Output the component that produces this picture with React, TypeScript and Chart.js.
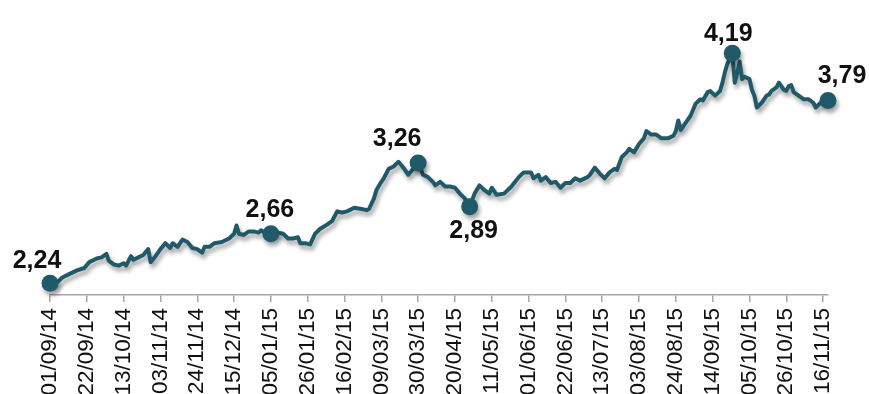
import React, { useEffect, useRef } from "react";
import { Chart, registerables } from "chart.js";

Chart.register(...registerables);

// Monday tick labels, every 15 trading days (3 weeks)
const tickLabels = [
  "01/09/14", "22/09/14", "13/10/14", "03/11/14", "24/11/14", "15/12/14",
  "05/01/15", "26/01/15", "16/02/15", "09/03/15", "30/03/15", "20/04/15",
  "11/05/15", "01/06/15", "22/06/15", "13/07/15", "03/08/15", "24/08/15",
  "14/09/15", "05/10/15", "26/10/15", "16/11/15",
];
const TICK_STEP = 15; // trading days between tick labels

// trading-day index (0 = 01/09/14) of each observation
const tradingDay = [
  0, 3, 5, 8, 11, 14, 16, 19, 21, 23, 24, 26, 28, 30, 31, 33, 34, 36, 38, 40,
  41, 43, 45, 47, 49, 50, 52, 54, 56, 58, 60, 62, 63, 65, 67, 70, 73, 75, 76, 77,
  79, 81, 83, 85, 86, 88, 90, 93, 95, 97, 99, 101, 102, 104, 106, 108, 110, 113, 115, 117,
  119, 121, 124, 127, 129, 130, 132, 133, 135, 136, 138, 140, 142, 144, 146, 148, 150, 152, 154, 156,
  157, 159, 161, 163, 165, 167, 169, 171, 173, 175, 177, 179, 180, 182, 185, 188, 191, 193, 196, 197,
  199, 200, 202, 204, 206, 208, 210, 212, 214, 216, 219, 220, 222, 224, 226, 228, 230, 231, 233, 235,
  236, 238, 240, 242, 243, 245, 247, 249, 252, 254, 255, 256, 257, 259, 261, 263, 265, 266, 268, 269,
  271, 273, 274, 275, 276, 278, 279, 280, 281, 282, 283, 285, 286, 287, 288, 290, 292, 293, 294, 296,
  297, 299, 300, 301, 302, 303, 305, 307, 309, 311, 312, 314, 315, 317,
];

const values = [
  2.24, 2.25, 2.29, 2.32, 2.35, 2.37, 2.42, 2.45, 2.46, 2.49, 2.43, 2.40, 2.39, 2.41, 2.39, 2.47, 2.44, 2.46, 2.48, 2.53,
  2.42, 2.47, 2.53, 2.58, 2.54, 2.58, 2.55, 2.61, 2.59, 2.54, 2.53, 2.50, 2.55, 2.55, 2.58, 2.59, 2.62, 2.66, 2.73, 2.66,
  2.65, 2.68, 2.68, 2.67, 2.69, 2.66, 2.66, 2.67, 2.66, 2.62, 2.62, 2.63, 2.58, 2.58, 2.57, 2.66, 2.70, 2.74, 2.77, 2.85,
  2.84, 2.85, 2.88, 2.87, 2.86, 2.87, 2.96, 3.03, 3.10, 3.13, 3.21, 3.23, 3.27, 3.22, 3.16, 3.21, 3.26, 3.16, 3.14, 3.10,
  3.07, 3.10, 3.06, 3.06, 3.05, 3.00, 2.96, 2.89, 3.00, 3.07, 3.03, 3.00, 3.05, 2.99, 3.00, 3.06, 3.14, 3.18, 3.18, 3.13,
  3.16, 3.11, 3.14, 3.09, 3.10, 3.05, 3.09, 3.09, 3.13, 3.11, 3.14, 3.16, 3.22, 3.17, 3.13, 3.18, 3.21, 3.20, 3.31, 3.35,
  3.38, 3.35, 3.42, 3.47, 3.53, 3.50, 3.50, 3.47, 3.47, 3.49, 3.53, 3.62, 3.54, 3.60, 3.66, 3.76, 3.80, 3.79, 3.86, 3.87,
  3.83, 3.87, 3.94, 4.03, 4.10, 4.19, 3.94, 4.02, 4.12, 3.97, 3.99, 3.97, 3.88, 3.83, 3.73, 3.77, 3.83, 3.84, 3.87, 3.90,
  3.94, 3.88, 3.87, 3.91, 3.92, 3.86, 3.83, 3.80, 3.80, 3.77, 3.73, 3.77, 3.78, 3.79,
];

// trading days whose value is marked and labelled
const markedDays = [0, 90, 150, 171, 278, 317];

const LINE_COLOR = "#205a6a";

export default function App() {
  const canvasRef = useRef<HTMLCanvasElement | null>(null);

  useEffect(() => {
    const canvas = canvasRef.current;
    if (!canvas) return;

    const points = tradingDay.map((d, i) => ({ x: d, y: values[i] }));
    const markedIdx = new Set(markedDays.map((d) => tradingDay.indexOf(d)));

    // label offsets (px) from the marker centre to the label's cap centre
    const labelOffsets: Record<number, [number, number]> = {
      0: [-13, -24],
      90: [-1, -26],
      150: [-21, -26],
      171: [4, 22],
      278: [-4, -21],
      317: [14, -26],
    };

    const shadowPlugin = {
      id: "lineShadow",
      beforeDatasetsDraw(chart: any) {
        const ctx = chart.ctx;
        ctx.save();
        ctx.shadowColor = "rgba(0,0,0,0.36)";
        ctx.shadowBlur = 4;
        ctx.shadowOffsetX = 2;
        ctx.shadowOffsetY = 4;
      },
      afterDatasetsDraw(chart: any) {
        chart.ctx.restore();
      },
    };

    const labelPlugin = {
      id: "valueLabels",
      afterDraw(chart: any) {
        const ctx = chart.ctx;
        const meta = chart.getDatasetMeta(0);
        ctx.save();
        ctx.font = "bold 25px 'Liberation Sans', Arial, sans-serif";
        ctx.fillStyle = "#111111";
        ctx.textAlign = "center";
        ctx.textBaseline = "alphabetic";
        markedDays.forEach((day) => {
          const idx = tradingDay.indexOf(day);
          const el = meta.data[idx];
          if (!el) return;
          const [dx, dy] = labelOffsets[day] || [0, -24];
          const text = values[idx].toFixed(2).replace(".", ",");
          ctx.fillText(text, el.x + dx, el.y + dy + 8.9);
        });
        ctx.restore();
      },
    };

    const chart = new Chart(canvas, {
      type: "line",
      data: {
        datasets: [
          {
            data: points,
            borderColor: LINE_COLOR,
            backgroundColor: LINE_COLOR,
            borderWidth: 4,
            tension: 0,
            borderJoinStyle: "round",
            borderCapStyle: "round",
            pointRadius: (c: any) => (markedIdx.has(c.dataIndex) ? 8.5 : 0),
            pointHoverRadius: (c: any) => (markedIdx.has(c.dataIndex) ? 8.5 : 0),
            pointBorderWidth: 0,
            pointBackgroundColor: LINE_COLOR,
            clip: false as any,
          },
        ],
      },
      options: {
        responsive: false,
        animation: false,
        devicePixelRatio: 1,
        parsing: false as any,
        layout: { padding: { left: 50, right: 41, top: 0, bottom: 0 } },
        plugins: {
          legend: { display: false },
          tooltip: { enabled: false },
          title: { display: false },
        },
        events: [],
        scales: {
          x: {
            type: "linear",
            min: 0,
            max: tradingDay[tradingDay.length - 1],
            afterBuildTicks: (scale: any) => {
              scale.ticks = tickLabels.map((_, k) => ({ value: k * TICK_STEP }));
            },
            afterFit: (scale: any) => {
              scale.height = 99;
            },
            border: { display: true, color: "#a6a6a6", width: 1.5 },
            grid: {
              display: true,
              drawOnChartArea: false,
              drawTicks: true,
              tickLength: 7,
              color: "#a6a6a6",
              lineWidth: 1.5,
            },
            ticks: {
              autoSkip: false,
              minRotation: 90,
              maxRotation: 90,
              padding: 6,
              color: "#111111",
              font: { family: "'Liberation Sans', Arial, sans-serif", size: 22.5 },
              callback: (v: any) => tickLabels[Math.round(Number(v) / TICK_STEP)],
            },
          },
          y: {
            display: false,
            min: 2.1413,
            max: 4.5685,
          },
        },
      },
      plugins: [shadowPlugin, labelPlugin],
    });

    return () => chart.destroy();
  }, []);

  return (
    <div
      style={{
        position: "fixed",
        left: 0,
        top: 0,
        width: 869,
        height: 394,
        overflow: "hidden",
        background: "#ffffff",
      }}
    >
      <canvas ref={canvasRef} width={869} height={394} style={{ display: "block" }} />
    </div>
  );
}
